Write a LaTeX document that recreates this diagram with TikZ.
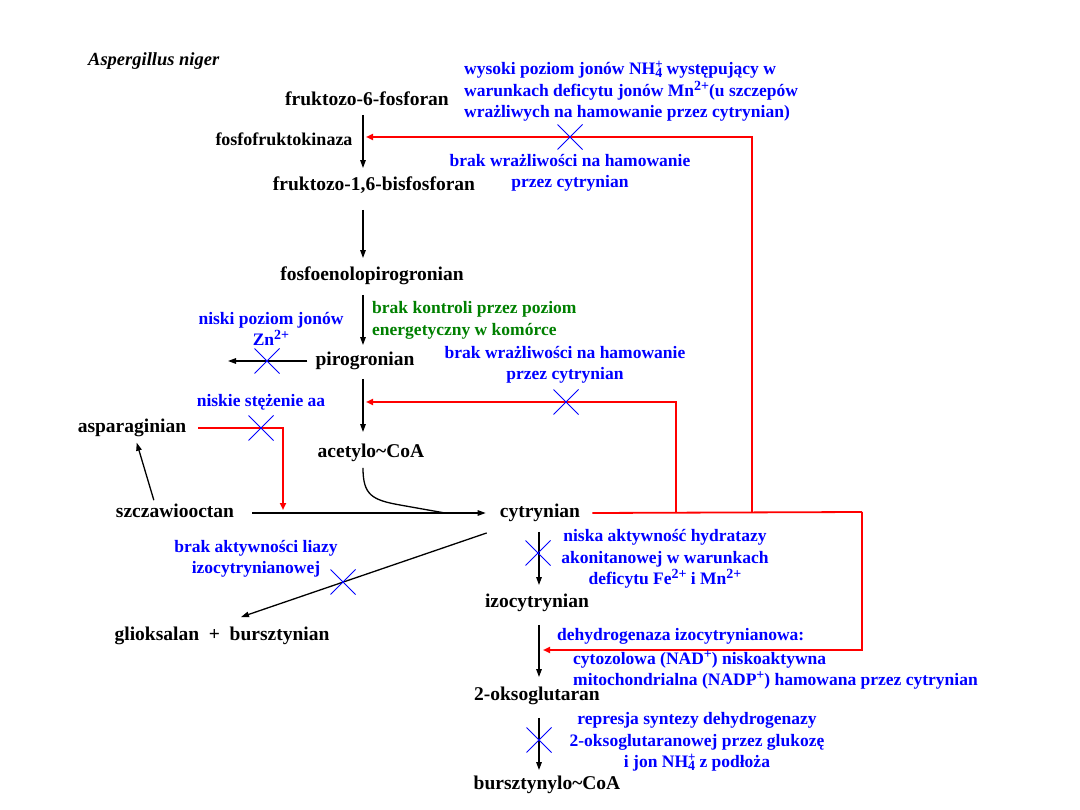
\documentclass[tikz,border=0pt]{standalone}
\usepackage{fontspec}
\setmainfont{Liberation Serif}
\usetikzlibrary{arrows.meta,shapes.misc}
\definecolor{rblue}{RGB}{0,0,255}
\definecolor{rgreen}{RGB}{0,128,0}
\definecolor{rred}{RGB}{255,0,0}
\newcommand\supx[1]{\raisebox{6pt}{\fontsize{14}{14}\selectfont #1}}
\newcommand\nhfour{NH\rlap{\raisebox{6.5pt}{\fontsize{13}{13}\selectfont +}}\raisebox{-2.5pt}{\fontsize{14}{14}\selectfont 4}}
\begin{document}
\begin{tikzpicture}[x=1pt,y=-1pt,
  lab/.style={font=\fontsize{19.5}{23}\selectfont\bfseries, inner sep=0pt, text height=13.6pt, text depth=3.9pt},
  small/.style={font=\fontsize{18}{21}\selectfont\bfseries, inner sep=0pt},
  blu/.style={text=rblue, font=\fontsize{17.5}{21.5}\selectfont\bfseries, inner sep=0pt, align=center},
  grn/.style={text=rgreen, font=\fontsize{17.5}{22}\selectfont\bfseries, inner sep=0pt, align=left},
  arr/.style={draw=black, line width=1.3pt, -{Triangle[length=8pt,width=5.5pt]}},
  line/.style={draw=black, line width=1.3pt},
  redl/.style={draw=rred, line width=1.8pt},
  redarr/.style={draw=rred, line width=1.8pt, -{Triangle[length=7pt,width=6pt]}},
  xm/.style={draw=rblue, cross out, line width=1pt, minimum size=24pt, inner sep=0pt}]
\useasboundingbox[fill=white] (0,0) rectangle (1080,810);

% title
\node[font=\fontsize{18.5}{21}\selectfont\bfseries\itshape, anchor=west, inner sep=0pt] (title) at (88,61) {Aspergillus niger};

% main labels
\node[lab] (f6p) at (367,101) {fruktozo-6-fosforan};
\node[small] (pfk) at (284,139) {fosfofruktokinaza};
\node[lab] (f16) at (374,186) {fruktozo-1,6-bisfosforan};
\node[lab] (pep) at (372,276) {fosfoenolopirogronian};
\node[lab] (pir) at (365,361) {pirogronian};
\node[lab] (asp) at (132,428) {asparaginian};
\node[lab] (aco) at (371,453) {acetylo\textasciitilde CoA};
\node[lab] (szc) at (175,513) {szczawiooctan};
\node[lab] (cyt) at (540,513) {cytrynian};
\node[lab] (gli) at (222,636) {glioksalan \ + \ bursztynian};
\node[lab] (izo) at (537,603) {izocytrynian};
\node[lab] (oks) at (537,696) {2-oksoglutaran};
\node[lab] (bur) at (547,785) {bursztynylo\textasciitilde CoA};

% helper coordinates
\coordinate (ax) at (363,0);
\coordinate (bx) at (539,0);
\coordinate (pend) at (228,361);
\coordinate (join) at (445,513);
\coordinate (r1) at (676,512);
\coordinate (r2) at (752,512);
\coordinate (r3) at (862,512);
\coordinate (tg1) at (366,137);
\coordinate (tg2) at (366,402);
\coordinate (tg3) at (543,650);
\coordinate (tg4) at (283,510);

% black arrows
\draw[arr, shorten <=5pt, shorten >=9pt] (f6p.south -| ax) -- (f16.north -| ax);
\draw[arr, shorten <=15pt, shorten >=9pt] (f16.south -| ax) -- (pep.north -| ax);
\draw[arr, shorten <=10pt, shorten >=7pt] (pep.south -| ax) -- (pir.north -| ax);
\draw[arr, shorten <=9pt, shorten >=12pt] (pir.south -| ax) -- (aco.north -| ax);
\draw[arr, shorten <=8pt] (pir.west) -- (pend);
\draw[arr, shorten <=18pt, shorten >=14pt] (szc.east) -- (cyt.west);
\draw[arr, shorten <=4pt, shorten >=6pt] ([xshift=-20pt]szc.north) -- ([xshift=3pt]asp.south);
\draw[line] ([yshift=-6pt]aco.south -| ax) .. controls (363,495) and (372,500) .. (400,505) -- (join);
\draw[arr] ([xshift=-13pt,yshift=-11pt]cyt.south west) -- ([xshift=19pt,yshift=10pt]gli.north);
\draw[arr, shorten <=10pt, shorten >=9pt] (cyt.south -| bx) -- (izo.north -| bx);
\draw[arr, shorten <=13pt, shorten >=10pt] (izo.south -| bx) -- (oks.north -| bx);
\draw[arr, shorten <=13pt, shorten >=6pt] (oks.south -| bx) -- (bur.north -| bx);

% red feedback lines
\draw[redl] ([xshift=12pt]cyt.east) -- (r3);
\draw[redarr] (r2) |- (tg1);
\draw[redarr] (r1) |- (tg2);
\draw[redarr] (r3) |- (tg3);
\draw[redarr] ([xshift=12pt]asp.east) -| (tg4);

% crosses
\node[xm] (x1) at (570,137) {};
\node[xm] (x2) at (267,361) {};
\node[xm] (x3) at (566,402) {};
\node[xm] (x4) at (261,428) {};
\node[xm] (x5) at (343,582) {};
\node[xm] (x6) at (538,553) {};
\node[xm] (x7) at (539,740) {};

% blue / green annotations
\node[blu, align=left, anchor=west] (t1) at (464,91) {wysoki poziom jonów \nhfour{} występujący w\\warunkach deficytu jonów Mn\supx{2+}(u szczepów\\wrażliwych na hamowanie przez cytrynian)};
\node[blu] (t2) at (570,173) {brak wrażliwości na hamowanie\\przez cytrynian};
\node[grn, anchor=west] (t3) at (372,320) {brak kontroli przez poziom\\energetyczny w komórce};
\node[blu] (t4) at (271,329) {niski poziom jonów\\Zn\supx{2+}};
\node[blu] (t5) at (565,365) {brak wrażliwości na hamowanie\\przez cytrynian};
\node[blu] (t6) at (261,402) {niskie stężenie aa};
\node[blu] (t7) at (256,559) {brak aktywności liazy\\izocytrynianowej};
\node[blu] (t8) at (665,559) {niska aktywność hydratazy\\akonitanowej w warunkach\\deficytu Fe\supx{2+} i Mn\supx{2+}};
\node[blu, anchor=west] (t9) at (557,636) {dehydrogenaza izocytrynianowa:};
\node[blu, align=left, anchor=west] (t10) at (573,670) {cytozolowa (NAD\supx{+}) niskoaktywna\\mitochondrialna (NADP\supx{+}) hamowana przez cytrynian};
\node[blu] (t11) at (697,742) {represja syntezy dehydrogenazy\\2-oksoglutaranowej przez glukozę\\i jon \nhfour{} z podłoża};
\end{tikzpicture}
\end{document}
